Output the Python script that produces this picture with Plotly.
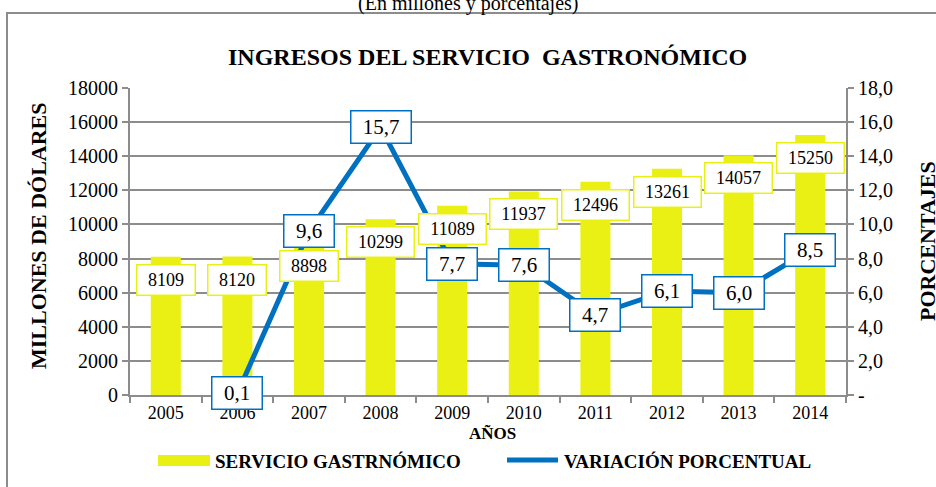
import plotly.graph_objects as go

years = ["2005", "2006", "2007", "2008", "2009", "2010", "2011", "2012", "2013", "2014"]
ingresos = [8109, 8120, 8898, 10299, 11089, 11937, 12496, 13261, 14057, 15250]
variacion = [None, 0.1, 9.6, 15.7, 7.7, 7.6, 4.7, 6.1, 6.0, 8.5]
var_labels = ["", "0,1", "9,6", "15,7", "7,7", "7,6", "4,7", "6,1", "6,0", "8,5"]
left_ticks = [0, 2000, 4000, 6000, 8000, 10000, 12000, 14000, 16000, 18000]
right_ticks = [0, 2, 4, 6, 8, 10, 12, 14, 16, 18]
right_ticktext = ["-", "2,0", "4,0", "6,0", "8,0", "10,0", "12,0", "14,0", "16,0", "18,0"]

YELLOW = "#EBF014"
BLUE = "#0070C0"
GRAY = "#8C8C8C"
FONT = "Liberation Serif"

W, H = 936, 487
L, R, T, B = 130, 846, 88, 395


def px(x):
    return (x - L) / (R - L)


def py(y):
    return (B - y) / (B - T)


idx = list(range(len(years)))

fig = go.Figure()
fig.add_trace(go.Bar(x=idx, y=ingresos, marker=dict(color=YELLOW, line=dict(width=0)),
                     width=0.42, name="SERVICIO GASTRNÓMICO", showlegend=False))
fig.add_trace(go.Scatter(x=idx, y=variacion, yaxis="y2", mode="lines",
                         line=dict(color=BLUE, width=5), name="VARIACIÓN PORCENTUAL",
                         showlegend=False, connectgaps=False))

annotations = []
for i, v in zip(idx, ingresos):
    s = str(v)
    annotations.append(dict(x=i, y=v, xref="x", yref="y", text=s, showarrow=False,
                            yshift=-23, font=dict(family=FONT, size=18, color="black"),
                            bgcolor="white", bordercolor=YELLOW, borderwidth=1.5,
                            width=len(s) * 9 + 19, height=27, borderpad=1))
for i, v, t in zip(idx, variacion, var_labels):
    if v is None:
        continue
    annotations.append(dict(x=i, y=v, xref="x", yref="y2", text=t, showarrow=False,
                            font=dict(family=FONT, size=21, color="black"),
                            bgcolor="white", bordercolor=BLUE, borderwidth=1.5,
                            width=len(t) * 10 + 17, height=29, borderpad=1))


def paper_text(x, y, text, size, angle=0, xanchor="center"):
    return dict(x=px(x), y=py(y), xref="paper", yref="paper", text=text, showarrow=False,
                textangle=angle, xanchor=xanchor, yanchor="middle",
                font=dict(family=FONT, size=size, color="black"))


annotations += [
    paper_text(468, 3, "(En millones y porcentajes)", 20),
    paper_text(487, 57, "<b>INGRESOS DEL SERVICIO  GASTRONÓMICO</b>", 24),
    paper_text(38, 236, "<b>MILLONES DE DÓLARES</b>", 22, angle=-90),
    paper_text(927, 241, "<b>PORCENTAJES</b>", 22, angle=-90),
    paper_text(492, 433, "<b>AÑOS</b>", 17),
    paper_text(213, 461, "<b>SERVICIO GASTRNÓMICO</b>", 19, xanchor="left"),
    paper_text(562, 461, "<b>VARIACIÓN PORCENTUAL</b>", 19, xanchor="left"),
]

shapes = [
    dict(type="rect", xref="paper", yref="paper", x0=px(7), x1=px(960), y0=py(520), y1=py(13),
         line=dict(color=GRAY, width=2), fillcolor="rgba(0,0,0,0)", layer="below"),
    dict(type="rect", xref="paper", yref="paper", x0=px(158), x1=px(210), y0=py(466), y1=py(455),
         line=dict(width=0), fillcolor=YELLOW),
    dict(type="line", xref="paper", yref="paper", x0=px(507), x1=px(558), y0=py(460), y1=py(460),
         line=dict(color=BLUE, width=5)),
]

fig.update_layout(
    width=W, height=H,
    margin=dict(l=L, r=W - R, t=T, b=H - B, pad=0),
    paper_bgcolor="white", plot_bgcolor="white",
    font=dict(family=FONT, size=17, color="black"),
    xaxis=dict(tickmode="array", tickvals=idx, ticktext=years, ticks="",
               showline=True, linecolor=GRAY, linewidth=2,
               showgrid=False, zeroline=False, tickfont=dict(family=FONT, size=18),
               range=[-0.5, len(years) - 0.5],
               minor=dict(tickmode="array", tickvals=[i - 0.5 for i in range(len(years) + 1)],
                          ticks="outside", ticklen=6, tickcolor=GRAY, tickwidth=2,
                          showgrid=False)),
    yaxis=dict(range=[0, 18000], tickvals=left_ticks, ticktext=[str(t) for t in left_ticks],
               ticks="outside", ticklen=6, tickcolor=GRAY, tickwidth=2, showline=True,
               linecolor=GRAY, linewidth=2, showgrid=True, gridcolor=GRAY, gridwidth=1.5,
               zeroline=False, tickfont=dict(family=FONT, size=20)),
    yaxis2=dict(range=[0, 18], overlaying="y", side="right", tickvals=right_ticks,
                ticktext=right_ticktext, ticks="outside", ticklen=6, tickcolor=GRAY,
                tickwidth=2, showline=True, linecolor=GRAY, linewidth=2, showgrid=False,
                zeroline=False, tickfont=dict(family=FONT, size=20)),
    annotations=annotations,
    shapes=shapes,
    showlegend=False,
)

fig.write_html("out.html", config={"displayModeBar": False},
               post_script="document.body.style.margin='0';")
